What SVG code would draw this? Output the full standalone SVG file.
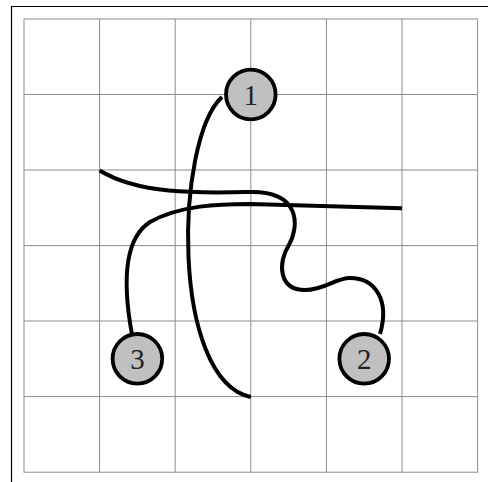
<svg xmlns="http://www.w3.org/2000/svg" width="488" height="482" viewBox="0 0 488 482">
<style>
.grid{stroke:#8c8c8c;stroke-width:1;fill:none}
.edge{stroke:#000;stroke-width:4;fill:none;stroke-linecap:butt}
.node circle{fill:#c0c0c0;stroke:#000;stroke-width:3.8}
.node text{font-family:"Liberation Serif","DejaVu Serif",serif;font-size:29px;fill:#222;text-anchor:middle;dominant-baseline:central}
</style>
<rect width="488" height="482" fill="#fff"/>
<path d="M11.5 482 V6.5 H488" stroke="#000" stroke-width="1.2" fill="none"/>
<g id="grid" class="grid">
<rect x="24" y="19" width="453.6" height="453.2"/>
<path d="M99.6 19V472.2M175.2 19V472.2M250.8 19V472.2M326.4 19V472.2M402 19V472.2"/>
<path d="M24 94.5H477.6M24 170H477.6M24 245.6H477.6M24 321H477.6M24 396.6H477.6"/>
</g>
<g id="connectors">
<path class="edge" d="M222 97 C175 140,170 380,250.8 397"/>
<path class="edge" d="M99.6 170.5 C140 195,200 193,250 192 C300 191,300 225,288.6 245.6 C278 262,278 290,305 290 C325 290,335 278,350 278 C375 278,390 300,380 334"/>
<path class="edge" d="M131.7 333 C124 290,122 240,150 222 C180 205,220 204,250 204 L402 208.3"/>
</g>
<g id="node1" class="node"><circle cx="250.8" cy="94.5" r="24.8"/><text x="250.8" y="95">1</text></g>
<g id="node2" class="node"><circle cx="364.2" cy="358.8" r="24.8"/><text x="364.2" y="359.3">2</text></g>
<g id="node3" class="node"><circle cx="137.4" cy="358.8" r="24.8"/><text x="137.4" y="359.3">3</text></g>
</svg>
